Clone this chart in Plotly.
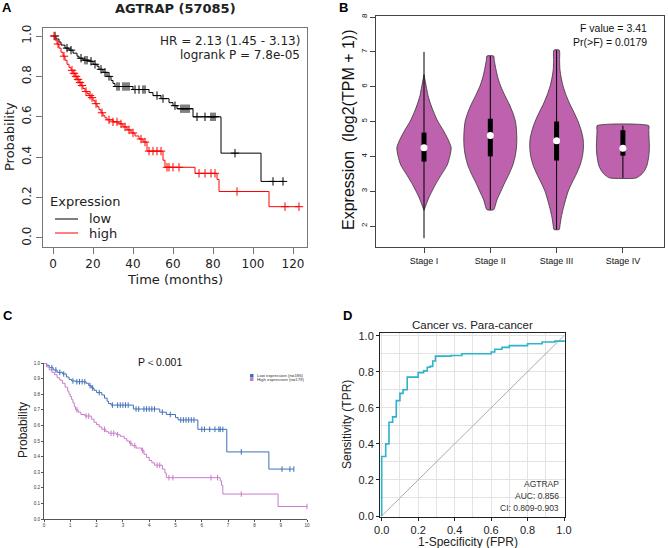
import numpy as np
import plotly.graph_objects as go

W, H = 668, 548

# ---------------- Panel A data (KM, months) ----------------
A_low_t = [0, 1.5, 3, 4, 6, 8, 10, 12, 13, 15, 18, 20, 22, 23, 25, 27, 29, 30, 31, 40, 48, 50, 54, 58, 60, 62, 70, 84, 104]
A_low_s = [1.0, 0.985, 0.97, 0.955, 0.94, 0.93, 0.915, 0.90, 0.89, 0.88, 0.875, 0.86, 0.85, 0.835, 0.82, 0.80, 0.78, 0.765, 0.75, 0.735, 0.72, 0.705, 0.69, 0.67, 0.655, 0.64, 0.60, 0.42, 0.28]
A_low_cens = [1, 7, 9, 14, 16, 17, 19, 21, 24, 26, 28, 32, 33, 35, 36, 37, 38, 41, 43, 45, 46, 52, 55, 61, 64, 65, 66, 67, 68, 72, 76, 79, 80, 81, 91, 110, 115]

A_high_t = [0, 1, 2, 3, 4, 5, 6, 7, 8, 9, 10, 11, 12, 13, 14, 15, 16, 17, 18, 19, 20, 21, 22, 23, 24, 25, 26, 27, 30, 33, 35, 37, 39, 41, 43, 45, 47, 55, 56, 71, 82, 83, 108]
A_high_s = [1.0, 0.98, 0.96, 0.94, 0.92, 0.90, 0.88, 0.86, 0.845, 0.83, 0.815, 0.80, 0.785, 0.77, 0.755, 0.74, 0.725, 0.715, 0.705, 0.695, 0.68, 0.665, 0.65, 0.635, 0.62, 0.605, 0.595, 0.585, 0.575, 0.565, 0.55, 0.535, 0.52, 0.505, 0.49, 0.475, 0.43, 0.385, 0.35, 0.32, 0.29, 0.23, 0.155]
A_high_cens = [0.5, 2.5, 5.5, 9.5, 10.5, 11.5, 12.5, 13.5, 14.5, 16.5, 18.5, 19.5, 21.5, 24.5, 28, 30, 32, 34, 36, 38, 40, 44, 46, 48, 50, 52, 54, 57, 58, 60, 63, 73, 76, 79, 81, 92, 116, 123]
A_xticks = [0, 20, 40, 60, 80, 100, 120]
A_yticks = [0.0, 0.2, 0.4, 0.6, 0.8, 1.0]

# ---------------- Panel B data (violins) ----------------
B_stages = ["Stage I", "Stage II", "Stage III", "Stage IV"]
B_prof_y = [
    [2.45, 2.6, 2.8, 3.0, 3.25, 3.5, 3.75, 4.0, 4.25, 4.5, 4.75, 5.0, 5.25, 5.5, 5.75, 6.0, 6.2, 6.35],
    [2.47, 2.75, 3.0, 3.25, 3.5, 3.75, 4.0, 4.25, 4.5, 4.75, 5.0, 5.25, 5.5, 5.75, 6.0, 6.25, 6.5, 6.75, 6.88],
    [1.9, 2.0, 2.25, 2.5, 2.75, 3.0, 3.25, 3.5, 3.75, 4.0, 4.25, 4.5, 4.75, 5.0, 5.25, 5.5, 5.75, 6.0, 6.25, 6.5, 6.75, 7.05],
    [3.38, 3.45, 3.5, 3.6, 3.75, 4.0, 4.25, 4.5, 4.75, 4.88],
]
B_prof_w = [
    [0.0, 0.03, 0.07, 0.12, 0.19, 0.27, 0.35, 0.39, 0.41, 0.36, 0.29, 0.21, 0.15, 0.10, 0.06, 0.035, 0.015, 0.0],
    [0.05, 0.10, 0.16, 0.22, 0.285, 0.34, 0.375, 0.395, 0.40, 0.395, 0.38, 0.34, 0.285, 0.22, 0.16, 0.115, 0.085, 0.06, 0.05],
    [0.04, 0.05, 0.07, 0.10, 0.135, 0.175, 0.235, 0.30, 0.355, 0.39, 0.405, 0.40, 0.37, 0.325, 0.265, 0.20, 0.145, 0.10, 0.07, 0.05, 0.045, 0.04],
    [0.2, 0.26, 0.29, 0.33, 0.365, 0.39, 0.40, 0.395, 0.39, 0.39],
]
B_whisk_lo = [1.65, 2.47, 1.9, 3.38]
B_whisk_hi = [7.0, 6.88, 7.05, 4.88]
B_q1 = [3.85, 4.0, 3.88, 4.02]
B_q3 = [4.68, 5.08, 5.0, 4.75]
B_median = [4.25, 4.6, 4.45, 4.23]
B_yticks = [2, 3, 4, 5, 6, 7, 8]

# ---------------- Panel C data (KM, years) ----------------
C_low_t = [0, 0.1, 0.2, 0.35, 0.5, 0.7, 0.85, 0.95, 1.05, 1.2, 1.6, 1.7, 1.8, 1.9, 2.0, 2.2, 2.3, 2.4, 2.45, 2.55, 3.4, 4.4, 4.65, 5.0, 5.1, 5.85, 6.95, 8.55]
C_low_s = [1.0, 0.985, 0.97, 0.955, 0.94, 0.93, 0.91, 0.895, 0.885, 0.88, 0.87, 0.855, 0.84, 0.825, 0.81, 0.795, 0.775, 0.755, 0.74, 0.73, 0.705, 0.685, 0.67, 0.65, 0.635, 0.575, 0.43, 0.32]
C_low_cens = [0.3, 0.45, 0.6, 0.75, 1.1, 1.25, 1.35, 1.45, 1.55, 1.75, 1.85, 2.1, 2.6, 2.8, 2.9, 3.0, 3.1, 3.2, 3.5, 3.6, 3.8, 3.9, 4.0, 4.1, 4.2, 4.5, 4.8, 5.2, 5.3, 5.4, 5.5, 5.6, 5.7, 6.0, 6.1, 6.3, 6.5, 6.65, 6.7, 6.8, 7.5, 9.05, 9.35, 9.5]
C_high_t = [0, 0.1, 0.2, 0.3, 0.4, 0.5, 0.6, 0.7, 0.8, 0.9, 0.95, 1.0, 1.05, 1.1, 1.15, 1.2, 1.3, 1.4, 1.55, 1.8, 1.9, 2.0, 2.1, 2.2, 2.35, 2.45, 2.75, 2.9, 3.05, 3.15, 3.25, 3.35, 3.5, 3.7, 3.8, 3.9, 4.0, 4.1, 4.2, 4.5, 4.6, 4.65, 6.7, 6.75, 6.8, 8.9]
C_high_s = [1.0, 0.975, 0.955, 0.94, 0.925, 0.905, 0.89, 0.87, 0.845, 0.82, 0.80, 0.785, 0.765, 0.745, 0.72, 0.70, 0.685, 0.67, 0.66, 0.64, 0.62, 0.605, 0.59, 0.575, 0.56, 0.55, 0.54, 0.53, 0.515, 0.50, 0.485, 0.47, 0.455, 0.44, 0.415, 0.395, 0.375, 0.36, 0.345, 0.32, 0.295, 0.265, 0.245, 0.215, 0.16, 0.08]
C_high_cens = [1.25, 1.6, 1.7, 2.3, 2.55, 2.65, 2.8, 3.3, 3.45, 3.75, 4.3, 4.4, 4.75, 4.9, 6.35, 6.6, 7.5, 10.0]
C_xticks = list(range(0, 11))
C_yticks = [0.0, 0.1, 0.2, 0.3, 0.4, 0.5, 0.6, 0.7, 0.8, 0.9, 1.0]

# ---------------- Panel D data (ROC) ----------------
D_fpr = [0, 0.022, 0.04, 0.06, 0.08, 0.10, 0.117, 0.14, 0.20, 0.23, 0.25, 0.265, 0.28, 0.295, 0.38, 0.44, 0.60, 0.62, 0.66, 0.70, 0.80, 0.88, 0.95, 1.0, 1.0]
D_tpr = [0, 0.33, 0.40, 0.52, 0.55, 0.64, 0.68, 0.70, 0.77, 0.795, 0.805, 0.825, 0.83, 0.86, 0.887, 0.89, 0.90, 0.91, 0.925, 0.935, 0.945, 0.955, 0.965, 0.97, 0.975]
D_ticks = [0.0, 0.2, 0.4, 0.6, 0.8, 1.0]

ARIAL = "Liberation Sans, Arial, sans-serif"
DEJAVU = "DejaVu Sans, sans-serif"


def px(x):
    return x / W


def py(y):
    return 1 - y / H


def km_line(t, s, tmax):
    return list(t) + [tmax], list(s) + [s[-1]]


def surv_at(t, s, c):
    idx = np.searchsorted(np.array(t), np.array(c), side="right") - 1
    return list(np.array(s)[idx])


fig = go.Figure()

# ---- Panel A traces ----
for t, s, cens, col in [(A_low_t, A_low_s, A_low_cens, "#000000"),
                        (A_high_t, A_high_s, A_high_cens, "#FF0000")]:
    lx, ly = km_line(t, s, max(cens))
    fig.add_trace(go.Scatter(x=lx, y=ly, mode="lines", line=dict(color=col, width=1, shape="hv"),
                             xaxis="x", yaxis="y", hoverinfo="skip"))
    fig.add_trace(go.Scatter(x=cens, y=surv_at(t, s, cens), mode="markers",
                             marker=dict(symbol="cross-thin", size=6, line=dict(color=col, width=1)),
                             xaxis="x", yaxis="y", hoverinfo="skip"))

# ---- Panel B traces ----
VCOL = "#BE62AD"
for i, name in enumerate(B_stages):
    c = i + 1
    yy = B_prof_y[i]
    ww = B_prof_w[i]
    xs = [c - w for w in ww] + [c + w for w in ww[::-1]]
    ys = list(yy) + list(yy[::-1])
    xs.append(xs[0]); ys.append(ys[0])
    fig.add_trace(go.Scatter(x=xs, y=ys, mode="lines", fill="toself", fillcolor=VCOL,
                             line=dict(color="#333333", width=0.8, shape="spline", smoothing=0.6),
                             xaxis="x2", yaxis="y2", hoverinfo="skip"))
    fig.add_trace(go.Scatter(x=[c, c], y=[B_whisk_lo[i], B_whisk_hi[i]], mode="lines",
                             line=dict(color="black", width=1), xaxis="x2", yaxis="y2", hoverinfo="skip"))
    fig.add_trace(go.Scatter(x=[c, c], y=[B_q1[i], B_q3[i]], mode="lines",
                             line=dict(color="black", width=5), xaxis="x2", yaxis="y2", hoverinfo="skip"))
    fig.add_trace(go.Scatter(x=[c], y=[B_median[i]], mode="markers",
                             marker=dict(color="white", size=7, line=dict(width=0)),
                             xaxis="x2", yaxis="y2", hoverinfo="skip"))

# ---- Panel C traces ----
for t, s, cens, col in [(C_low_t, C_low_s, C_low_cens, "#3F6FB8"),
                        (C_high_t, C_high_s, C_high_cens, "#C97BCB")]:
    lx, ly = km_line(t, s, max(cens))
    fig.add_trace(go.Scatter(x=lx, y=ly, mode="lines", line=dict(color=col, width=1, shape="hv"),
                             xaxis="x3", yaxis="y3", hoverinfo="skip", cliponaxis=False))
    fig.add_trace(go.Scatter(x=cens, y=surv_at(t, s, cens), mode="markers",
                             marker=dict(symbol="line-ns", size=4, line=dict(color=col, width=1)),
                             xaxis="x3", yaxis="y3", hoverinfo="skip", cliponaxis=False))

# ---- Panel D traces ----
fig.add_trace(go.Scatter(x=[0, 1], y=[0, 1], mode="lines", line=dict(color="#AAAAAA", width=1),
                         xaxis="x4", yaxis="y4", hoverinfo="skip"))
fig.add_trace(go.Scatter(x=D_fpr, y=D_tpr, mode="lines", line=dict(color="#2DB3CB", width=1.6, shape="vh"),
                         xaxis="x4", yaxis="y4", hoverinfo="skip"))

# ---------------- Layout ----------------
ax_common = dict(showgrid=False, zeroline=False, showline=True, automargin=False)

layout = dict(
    template="none",
    width=W, height=H, margin=dict(l=0, r=0, t=0, b=0, pad=0),
    paper_bgcolor="white", plot_bgcolor="white", showlegend=False,
    # Panel A
    xaxis=dict(domain=[px(43), px(307)], range=[-5, 127], anchor="y", mirror=True, linecolor="#777777",
               ticks="outside", ticklen=6, tickcolor="#777777", tickvals=A_xticks,
               tickfont=dict(family=DEJAVU, size=12, color="#222"), **ax_common),
    yaxis=dict(domain=[py(247), py(28)], range=[-0.0446, 1.0396], anchor="x", mirror=True, linecolor="#777777",
               ticks="outside", ticklen=6, tickcolor="#777777", tickvals=A_yticks, tickformat=".1f",
               tickangle=-90, tickfont=dict(family=DEJAVU, size=12, color="#222"), **ax_common),
    # Panel B
    xaxis2=dict(domain=[px(376), px(664)], range=[0.276, 4.62], anchor="y2", mirror=True, linecolor="#444444",
                ticks="outside", ticklen=5, tickcolor="#444444", tickvals=[1, 2, 3, 4], ticktext=B_stages,
                tickfont=dict(family=ARIAL, size=9, color="#111"), **ax_common),
    yaxis2=dict(domain=[py(247), py(16)], range=[1.397, 8.03], anchor="x2", mirror=True, linecolor="#444444",
                ticks="outside", ticklen=5, tickcolor="#444444", tickvals=B_yticks, tickangle=-90,
                tickfont=dict(family=ARIAL, size=8, color="#111"), **ax_common),
    # Panel C
    xaxis3=dict(domain=[px(44), px(307)], range=[0, 10], anchor="y3", linecolor="#555555", linewidth=1,
                ticks="outside", ticklen=2, tickcolor="#555555", tickvals=C_xticks,
                tickfont=dict(family=ARIAL, size=4.5, color="#333"), **ax_common),
    yaxis3=dict(domain=[py(519), py(363)], range=[0, 1], anchor="x3", linecolor="#555555", linewidth=1,
                ticks="outside", ticklen=2, tickcolor="#555555", tickvals=C_yticks, tickformat=".1f",
                tickfont=dict(family=ARIAL, size=4.5, color="#333"), **ax_common),
    # Panel D
    xaxis4=dict(domain=[px(380), px(565)], range=[-0.0093, 1.0055], anchor="y4", mirror=True, linecolor="#222222",
                ticks="outside", ticklen=3, tickcolor="#222222", tickvals=D_ticks, tickformat=".1f",
                showgrid=True, gridcolor="#E3E3E3", gridwidth=1, zeroline=False, showline=True, automargin=False,
                minor=dict(dtick=0.1, tick0=0, showgrid=True, gridcolor="#E3E3E3", gridwidth=1, ticks=""),
                tickfont=dict(family=ARIAL, size=11, color="#222")),
    yaxis4=dict(domain=[py(517), py(333)], range=[-0.0055, 1.015], anchor="x4", mirror=True, linecolor="#222222",
                ticks="outside", ticklen=3, tickcolor="#222222", tickvals=D_ticks, tickformat=".1f",
                showgrid=True, gridcolor="#E3E3E3", gridwidth=1, zeroline=False, showline=True, automargin=False,
                minor=dict(dtick=0.1, tick0=0, showgrid=True, gridcolor="#E3E3E3", gridwidth=1, ticks=""),
                tickfont=dict(family=ARIAL, size=11, color="#222")),
)
fig.update_layout(**layout)


def ann(text, x, y, size, family=ARIAL, xanchor="center", yanchor="middle", angle=0, color="#111", bold=False):
    if bold:
        text = "<b>" + text + "</b>"
    fig.add_annotation(text=text, x=px(x), y=py(y), xref="paper", yref="paper", showarrow=False,
                       xanchor=xanchor, yanchor=yanchor, textangle=angle,
                       font=dict(family=family, size=size, color=color))


# Panel labels
ann("A", 0, 8, 13, xanchor="left", bold=True, color="black")
ann("B", 337, 8, 13, xanchor="left", bold=True, color="black")
ann("C", 1, 315, 13, xanchor="left", bold=True, color="black")
ann("D", 341, 315, 13, xanchor="left", bold=True, color="black")

# Panel A texts
ann("AGTRAP (57085)", 175, 9, 13, family=DEJAVU, bold=True, color="#222")
ann("Probability", 9, 137, 13, family=DEJAVU, angle=-90, color="#222")
ann("Time (months)", 175, 279, 13, family=DEJAVU, color="#222")
ann("HR = 2.13 (1.45 - 3.13)", 302, 41, 12, family=DEJAVU, xanchor="right", color="#222")
ann("logrank P = 7.8e-05", 302, 55, 12, family=DEJAVU, xanchor="right", color="#222")
ann("Expression", 48, 202, 13, family=DEJAVU, xanchor="left", color="#222")
ann("low", 87, 218, 13, family=DEJAVU, xanchor="left", color="#222")
ann("high", 87, 233, 13, family=DEJAVU, xanchor="left", color="#222")
fig.add_shape(type="line", xref="paper", yref="paper", x0=px(55), x1=px(78), y0=py(219), y1=py(219),
              line=dict(color="black", width=1))
fig.add_shape(type="line", xref="paper", yref="paper", x0=px(55), x1=px(78), y0=py(233), y1=py(233),
              line=dict(color="#FF0000", width=1))

# Panel B texts
ann("Expression  (log2(TPM + 1))", 348, 130, 16, angle=-90, color="#111")
ann("F value = 3.41", 649, 28, 10.5, xanchor="right", color="#111")
ann("Pr(>F) = 0.0179", 649, 42, 10.5, xanchor="right", color="#111")

# Panel C texts
ann("P＜0.001", 160, 362, 10.5, color="#111")
ann("Probability", 23, 430, 12, angle=-90, color="#222")
fig.add_shape(type="rect", xref="paper", yref="paper", x0=px(250), x1=px(253.5), y0=py(377.5), y1=py(374),
              fillcolor="#3F6FB8", line=dict(width=0))
fig.add_shape(type="rect", xref="paper", yref="paper", x0=px(250), x1=px(253.5), y0=py(381), y1=py(377.5),
              fillcolor="#C97BCB", line=dict(width=0))
ann("Low expression (n=186)", 254.5, 375.8, 4.3, xanchor="left", color="#333")
ann("High expression (n=179)", 254.5, 379.3, 4.3, xanchor="left", color="#333")

# Panel D texts
ann("Cancer vs. Para-cancer", 472, 325, 11.5, color="#222")
ann("Sensitivity (TPR)", 347, 425, 12, angle=-90, color="#222")
ann("1-Specificity (FPR)", 468, 542, 12, color="#222")
ann("AGTRAP", 561, 484, 8.5, xanchor="right", color="#333")
ann("AUC: 0.856", 561, 496, 8.5, xanchor="right", color="#333")
ann("CI: 0.809-0.903", 561, 508, 8.5, xanchor="right", color="#333")

fig.write_html("out.html", config={"displayModeBar": False},
               post_script="document.body.style.margin='0';document.body.style.padding='0';"
                           "document.documentElement.style.overflow='hidden';")
